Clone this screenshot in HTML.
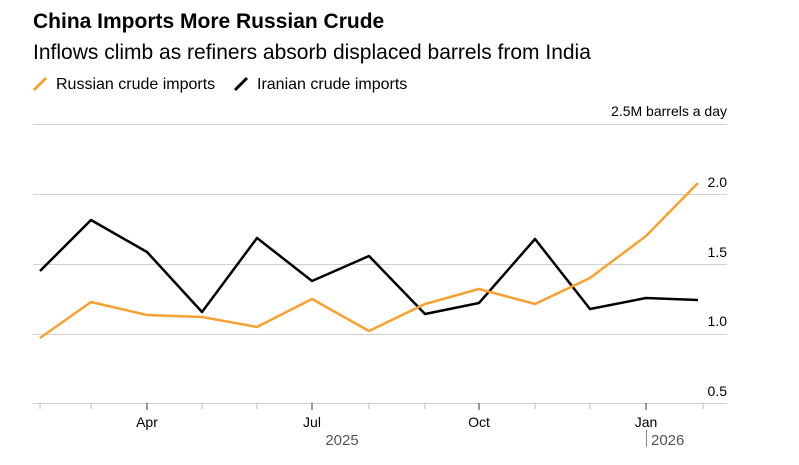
<!DOCTYPE html>
<html><head><meta charset="utf-8"><style>
body{margin:0;background:#fff;width:799px;height:460px;overflow:hidden;font-family:"Liberation Sans",sans-serif}
</style></head><body>
<svg width="799" height="460" xmlns="http://www.w3.org/2000/svg" font-family="Liberation Sans, sans-serif">
<text x="33" y="28" font-size="21" font-weight="bold" fill="#000">China Imports More Russian Crude</text>
<text x="33" y="59" font-size="21" fill="#000">Inflows climb as refiners absorb displaced barrels from India</text>
<line x1="34" y1="90" x2="46" y2="78" stroke="#f7a130" stroke-width="3"/>
<text x="56" y="89" font-size="16" fill="#000">Russian crude imports</text>
<line x1="235" y1="90" x2="247" y2="78" stroke="#000" stroke-width="3"/>
<text x="257" y="89" font-size="16" fill="#000">Iranian crude imports</text>
<g stroke="#d0d0d0" stroke-width="1">
<line x1="33" y1="124.5" x2="727" y2="124.5"/>
<line x1="33" y1="194.5" x2="727" y2="194.5"/>
<line x1="33" y1="264.5" x2="727" y2="264.5"/>
<line x1="33" y1="334.5" x2="727" y2="334.5"/>
<line x1="33" y1="403.5" x2="727" y2="403.5"/>
</g>
<g stroke="#bbb" stroke-width="1">
<line x1="40" y1="403" x2="40" y2="409"/><line x1="91" y1="403" x2="91" y2="409"/>
<line x1="202" y1="403" x2="202" y2="409"/><line x1="257" y1="403" x2="257" y2="409"/>
<line x1="369" y1="403" x2="369" y2="409"/><line x1="425" y1="403" x2="425" y2="409"/>
<line x1="535" y1="403" x2="535" y2="409"/><line x1="590" y1="403" x2="590" y2="409"/>
<line x1="703" y1="403" x2="703" y2="409"/>
</g>
<g stroke="#333" stroke-width="1">
<line x1="147" y1="403" x2="147" y2="410"/><line x1="312" y1="403" x2="312" y2="410"/>
<line x1="479" y1="403" x2="479" y2="410"/><line x1="646" y1="403" x2="646" y2="410"/>
</g>
<g font-size="14" fill="#000" text-anchor="end">
<text x="727" y="116">2.5M barrels a day</text>
<text x="727" y="187">2.0</text>
<text x="727" y="257">1.5</text>
<text x="727" y="326">1.0</text>
<text x="727" y="396">0.5</text>
</g>
<g font-size="14" fill="#000" text-anchor="middle">
<text x="147" y="427">Apr</text><text x="312" y="427">Jul</text>
<text x="479" y="427">Oct</text><text x="646" y="427">Jan</text>
</g>
<text x="342" y="445" font-size="15" fill="#555" text-anchor="middle">2025</text>
<line x1="646.5" y1="430" x2="646.5" y2="447" stroke="#888"/>
<text x="651" y="445" font-size="15" fill="#555">2026</text>
<polyline fill="none" stroke="#000" stroke-width="2.5" stroke-linejoin="round" points="40,271 91,220 147,252 202,312 257,238 312,281 369,256 425,314 479,303 535,239 590,309 646,298 698,300"/>
<polyline fill="none" stroke="#f7a130" stroke-width="2.5" stroke-linejoin="round" points="40,338 91,302 147,315 202,317 257,327 312,299 369,331 425,304 479,289 535,304 590,278 646,236 698,183"/>
</svg>
</body></html>
